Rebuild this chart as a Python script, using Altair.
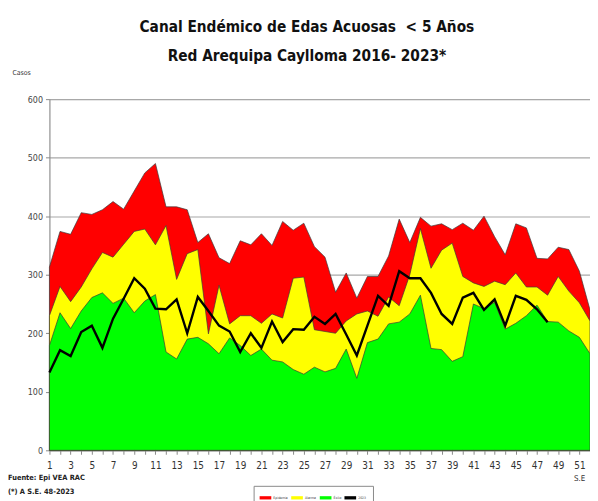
import altair as alt
import pandas as pd

weeks = list(range(1, 53))

epidemia = [313, 374, 369, 406, 403, 411, 425, 412, 443, 474, 490, 416, 416, 411, 355, 370,
            329, 319, 358, 351, 370, 350, 391, 376, 388, 348, 330, 270, 303, 260, 297, 297,
            332, 395, 355, 398, 383, 387, 377, 388, 376, 400, 365, 334, 387, 380, 328, 327,
            347, 343, 306, 240]

alarma = [230, 280, 254, 279, 310, 338, 330, 352, 374, 378, 351, 384, 292, 336, 343, 199,
          282, 216, 230, 230, 217, 233, 226, 294, 296, 206, 203, 200, 221, 233, 238, 229,
          262, 247, 300, 379, 311, 342, 354, 297, 286, 280, 289, 283, 303, 279, 279, 265,
          297, 272, 252, 221]

exito = [179, 235, 208, 238, 261, 269, 251, 260, 235, 255, 266, 168, 156, 190, 193, 182,
         165, 192, 179, 162, 173, 154, 151, 138, 130, 142, 134, 140, 173, 123, 184, 190,
         216, 219, 233, 265, 174, 172, 152, 160, 250, 242, 253, 207, 217, 230, 248, 220,
         219, 204, 193, 165]

casos_2023 = [133, 171, 161, 202, 213, 175, 225, 259, 294, 276, 242, 241, 258, 200, 262, 238,
              213, 203, 168, 200, 175, 220, 185, 207, 206, 228, 216, 233, 198, 162, 213, 264,
              247, 306, 294, 294, 269, 233, 216, 261, 269, 240, 258, 213, 264, 257, 241, 219]

series_names = ["Epidemia", "Alarma", "Éxito", "2023"]
series_colors = ["#FF0000", "#FFFF00", "#00FF00", "#000000"]

title_lines = ["Canal Endémico de Edas Acuosas \u00a0< 5 Años", "Red Arequipa Caylloma 2016- 2023*"]
note_fuente = "Fuente: Epi VEA RAC"
note_corte = "(*) A S.E. 48-2023"
y_ticks = [0, 100, 200, 300, 400, 500, 600]

FONT = "DejaVu Sans Condensed, Liberation Sans Narrow, Liberation Sans, sans-serif"


def band(name, vals):
    return pd.DataFrame({"semana": weeks, "casos": vals, "serie": name})


line_df = pd.DataFrame({"semana": weeks[:len(casos_2023)], "casos": casos_2023, "serie": "2023"})

color = alt.Color(
    "serie:N",
    scale=alt.Scale(domain=series_names, range=series_colors),
    legend=alt.Legend(
        title=None,
        orient="none",
        direction="horizontal",
        legendX=207,
        legendY=392,
        symbolType="M-1,-0.28H1V0.28H-1Z",
        symbolSize=140,
        symbolStrokeWidth=0,
        labelFontSize=3.5,
        labelFont=FONT,
        labelColor="#333",
        columnPadding=3,
        symbolOffset=0,
        labelOffset=2,
        padding=6,
        strokeColor="#888",
        fillColor="white",
    ),
)

x_enc = alt.X(
    "semana:Q",
    scale=alt.Scale(domain=[1, 52], nice=False, zero=False),
    axis=alt.Axis(
        values=weeks,
        labelExpr="datum.value % 2 == 1 ? datum.label : ''",
        title="S.E",
        titleX=537,
        titleY=29,
        titleAlign="center",
        titleBaseline="middle",
        titleFontSize=8,
        titleFontWeight="normal",
        titleFont=FONT,
        titleColor="#333",
        grid=False,
        tickSize=4,
        tickColor="#888",
        domainColor="#888",
        labelFontSize=10,
        labelFont=FONT,
        labelColor="#333",
        labelPadding=6,
        labelFlush=False,
        labelOverlap=False,
    ),
)

y_enc = alt.Y(
    "casos:Q",
    stack=None,
    scale=alt.Scale(domain=[0, 600], nice=False),
    axis=alt.Axis(
        values=y_ticks,
        title="Casos",
        titleAngle=0,
        titleX=-38,
        titleY=-27,
        titleAlign="left",
        titleBaseline="middle",
        titleFontSize=7,
        titleFontWeight="normal",
        titleFont=FONT,
        titleColor="#333",
        grid=True,
        gridColor="#a8a8a8",
        gridWidth=1.2,
        tickSize=4,
        tickColor="#888",
        domainColor="#888",
        labelFontSize=9,
        labelFont=FONT,
        labelColor="#444",
        labelPadding=3,
    ),
)

area_style = dict(stroke="#3a3a3a", strokeWidth=0.7, fillOpacity=1, interpolate="linear")

red = alt.Chart(band("Epidemia", epidemia)).mark_area(**area_style).encode(x=x_enc, y=y_enc, color=color)
yellow = alt.Chart(band("Alarma", alarma)).mark_area(**area_style).encode(x=x_enc, y=y_enc, color=color)
green = alt.Chart(band("Éxito", exito)).mark_area(**area_style).encode(x=x_enc, y=y_enc, color=color)
line = alt.Chart(line_df).mark_line(strokeWidth=2.4).encode(x=x_enc, y=y_enc, color=color)

note_style = dict(align="left", baseline="middle", font=FONT, fontSize=7.5, fontWeight="bold", color="#222")
fuente = alt.Chart(pd.DataFrame({"t": [note_fuente]})).mark_text(**note_style).encode(
    text="t:N", x=alt.value(-42), y=alt.value(384)
)
corte = alt.Chart(pd.DataFrame({"t": [note_corte]})).mark_text(**note_style).encode(
    text="t:N", x=alt.value(-42), y=alt.value(398)
)

chart = alt.layer(red, yellow, green, line, fuente, corte).properties(
    width=548,
    height=356,
    autosize=alt.AutoSizeParams(type="none"),
    padding={"left": 42, "top": 89, "right": 0, "bottom": 48},
    title=alt.TitleParams(
        text=title_lines,
        font=FONT,
        fontSize=15.5,
        fontWeight="bold",
        color="#111",
        anchor="middle",
        dx=-13,
        offset=4,
        lineHeight=30,
    ),
).configure_view(stroke=None).configure(background="white")

chart.save("out.html", embed_options={"renderer": "svg", "actions": False})
